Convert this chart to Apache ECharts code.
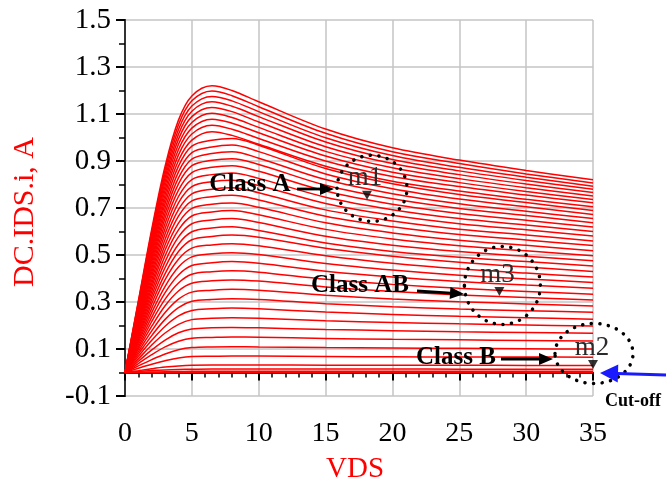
<!DOCTYPE html>
<html><head><meta charset="utf-8">
<script src="https://cdn.jsdelivr.net/npm/echarts@6/dist/echarts.min.js"></script>
<style>html,body{margin:0;padding:0;background:#fff}#c{width:672px;height:493px}</style>
</head><body><div id="c"></div>
<script>
// Drain voltage sample points (V)
const vds = [0,1,2,3,4,5,6.5,8,10,15,20,25,30,35];
// Drain current curves (A), top curve first
const curve01 = [0,0.305,0.61,0.878,1.074,1.177,1.22,1.2,1.152,1.036,0.956,0.904,0.86,0.82];
const curve02 = [0,0.3,0.599,0.863,1.054,1.156,1.198,1.178,1.131,1.018,0.939,0.889,0.845,0.806];
const curve03 = [0,0.294,0.588,0.846,1.034,1.134,1.175,1.156,1.11,0.999,0.923,0.873,0.831,0.793];
const curve04 = [0,0.288,0.576,0.829,1.014,1.112,1.152,1.133,1.089,0.981,0.906,0.858,0.817,0.78];
const curve05 = [0,0.282,0.564,0.812,0.993,1.089,1.128,1.11,1.066,0.961,0.889,0.842,0.802,0.766];
const curve06 = [0,0.276,0.552,0.794,0.971,1.064,1.103,1.085,1.043,0.941,0.871,0.825,0.786,0.751];
const curve07 = [0,0.27,0.539,0.776,0.949,1.04,1.078,1.061,1.02,0.921,0.852,0.808,0.77,0.736];
const curve08 = [0,0.263,0.526,0.757,0.926,1.015,1.052,1.035,0.996,0.9,0.834,0.791,0.755,0.722];
const curve09 = [0,0.256,0.513,0.738,0.902,0.989,1.025,1.009,0.971,0.878,0.814,0.772,0.737,0.705];
const curve10 = [0,0.25,0.499,0.719,0.878,0.963,0.988,0.996,0.967,0.868,0.803,0.757,0.723,0.689];
const curve11 = [0,0.243,0.485,0.698,0.854,0.936,0.96,0.968,0.94,0.845,0.782,0.738,0.705,0.672];
const curve12 = [0,0.235,0.471,0.678,0.828,0.908,0.932,0.939,0.912,0.821,0.761,0.718,0.686,0.655];
const curve13 = [0,0.228,0.456,0.657,0.803,0.88,0.903,0.91,0.885,0.797,0.739,0.698,0.668,0.637];
const curve14 = [0,0.221,0.441,0.635,0.776,0.851,0.873,0.88,0.856,0.772,0.716,0.677,0.648,0.619];
const curve15 = [0,0.213,0.426,0.613,0.749,0.821,0.842,0.849,0.826,0.746,0.693,0.655,0.628,0.6];
const curve16 = [0,0.205,0.41,0.59,0.722,0.791,0.812,0.818,0.796,0.719,0.669,0.633,0.607,0.581];
const curve17 = [0,0.197,0.394,0.567,0.693,0.76,0.78,0.786,0.765,0.692,0.645,0.61,0.585,0.56];
const curve18 = [0,0.189,0.378,0.544,0.665,0.73,0.748,0.754,0.734,0.665,0.62,0.587,0.564,0.54];
const curve19 = [0,0.181,0.362,0.521,0.636,0.698,0.716,0.721,0.703,0.637,0.594,0.563,0.541,0.518];
const curve20 = [0,0.173,0.345,0.497,0.607,0.666,0.683,0.689,0.671,0.609,0.568,0.539,0.518,0.497];
const curve21 = [0,0.164,0.328,0.472,0.577,0.633,0.649,0.655,0.638,0.58,0.542,0.515,0.495,0.476];
const curve22 = [0,0.155,0.311,0.447,0.546,0.599,0.615,0.62,0.604,0.551,0.515,0.49,0.472,0.453];
const curve23 = [0,0.146,0.293,0.421,0.515,0.565,0.579,0.585,0.576,0.529,0.495,0.469,0.449,0.43];
const curve24 = [0,0.137,0.274,0.395,0.482,0.529,0.543,0.548,0.539,0.497,0.465,0.441,0.423,0.406];
const curve25 = [0,0.128,0.255,0.367,0.449,0.492,0.505,0.51,0.502,0.464,0.436,0.414,0.398,0.383];
const curve26 = [0,0.118,0.236,0.34,0.415,0.455,0.467,0.472,0.465,0.431,0.406,0.387,0.372,0.359];
const curve27 = [0,0.108,0.217,0.312,0.381,0.418,0.429,0.433,0.427,0.397,0.375,0.358,0.345,0.333];
const curve28 = [0,0.099,0.197,0.284,0.347,0.38,0.39,0.394,0.389,0.364,0.345,0.33,0.319,0.309];
const curve29 = [0,0.089,0.177,0.255,0.312,0.342,0.35,0.354,0.35,0.329,0.313,0.301,0.292,0.283];
const curve30 = [0,0.079,0.157,0.226,0.276,0.303,0.311,0.314,0.311,0.293,0.28,0.27,0.263,0.256];
const curve31 = [0,0.069,0.137,0.197,0.241,0.264,0.271,0.274,0.271,0.257,0.247,0.239,0.233,0.227];
const curve32 = [0,0.058,0.117,0.168,0.205,0.225,0.231,0.233,0.231,0.22,0.213,0.207,0.202,0.198];
const curve33 = [0,0.048,0.096,0.138,0.169,0.185,0.19,0.192,0.19,0.183,0.178,0.173,0.17,0.167];
const curve34 = [0,0.038,0.076,0.109,0.133,0.146,0.149,0.151,0.15,0.145,0.141,0.139,0.136,0.134];
const curve35 = [0,0.028,0.055,0.079,0.097,0.106,0.109,0.11,0.109,0.106,0.104,0.103,0.101,0.1];
const curve36 = [0,0.018,0.035,0.05,0.062,0.068,0.069,0.07,0.07,0.068,0.067,0.066,0.066,0.065];
const curve37 = [0,0.008,0.016,0.023,0.028,0.031,0.032,0.032,0.032,0.031,0.031,0.031,0.03,0.03];
const curve38 = [0,0.004,0.008,0.011,0.013,0.014,0.015,0.015,0.015,0.015,0.015,0.014,0.014,0.014];
const curve39 = [0,0.001,0.002,0.003,0.004,0.005,0.005,0.005,0.005,0.005,0.005,0.005,0.005,0.005];
const curve40 = [0,0,0,0,0,0,0,0,0,0,0,0,0,0];
const curves = [curve01,curve02,curve03,curve04,curve05,curve06,curve07,curve08,curve09,curve10,
  curve11,curve12,curve13,curve14,curve15,curve16,curve17,curve18,curve19,curve20,
  curve21,curve22,curve23,curve24,curve25,curve26,curve27,curve28,curve29,curve30,
  curve31,curve32,curve33,curve34,curve35,curve36,curve37,curve38,curve39,curve40];
// Markers
const markerNames = ['m1','m3','m2'];
const markerVds = [18.1, 28.0, 35.0];
const markerIds = [0.737, 0.328, 0.017];
// Axis ranges
const xRange = [0, 35, 5];
const yRange = [-0.1, 1.5, 0.2];

const FONT = '"Liberation Serif","Times New Roman",serif';
const chart = echarts.init(document.getElementById('c'), null, {renderer:'canvas'});

const series = curves.map((c, k) => ({
  type:'line', data: vds.map((x,i)=>[x, c[i]]), showSymbol:false, smooth:0.35,
  lineStyle:{color:'#ff0000', width:1.5}, silent:true, z:2
}));
series.push({
  type:'scatter', data: markerVds.map((x,i)=>[x, markerIds[i]]),
  symbol:'triangle', symbolRotate:180, symbolSize:[10,9], symbolOffset:[0,-4],
  itemStyle:{color:'#000'}, z:5, silent:true
});

const option = {
  animation:false,
  grid:{left:125, right:79, top:20, bottom:97},
  xAxis:[{
    type:'value', min:xRange[0], max:xRange[1], interval:xRange[2],
    axisLine:{lineStyle:{color:'#000', width:2}},
    axisTick:{length:8, lineStyle:{color:'#000', width:2}},
    minorTick:{show:true, splitNumber:5, length:5, lineStyle:{color:'#000', width:1.5}},
    splitLine:{show:true, lineStyle:{color:'#c4c4c4', width:1.5}},
    axisLabel:{color:'#000', fontFamily:FONT, fontSize:28, margin:24}
  },{
    type:'value', position:'top', min:xRange[0], max:xRange[1],
    axisLine:{show:true, lineStyle:{color:'#333', width:2}},
    axisTick:{show:false}, axisLabel:{show:false}, splitLine:{show:false}
  }],
  yAxis:[{
    type:'value', min:yRange[0], max:yRange[1], interval:yRange[2],
    axisLine:{show:true, lineStyle:{color:'#000', width:2}},
    axisTick:{show:true, length:9, lineStyle:{color:'#000', width:2}},
    minorTick:{show:true, splitNumber:2, length:6, lineStyle:{color:'#000', width:1.5}},
    splitLine:{show:true, lineStyle:{color:'#c4c4c4', width:1.5}},
    axisLabel:{color:'#000', fontFamily:FONT, fontSize:29, margin:14,
      formatter:v=>(Math.abs(v)<1e-9?0:v).toFixed(1)}
  },{
    type:'value', position:'right', min:yRange[0], max:yRange[1],
    axisLine:{show:true, lineStyle:{color:'#333', width:2}},
    axisTick:{show:false}, axisLabel:{show:false}, splitLine:{show:false}
  }],
  series
};
chart.setOption(option);

function arrow(x1,y1,x2,y2,color,w,hl,hw){
  const dx=x2-x1, dy=y2-y1, L=Math.hypot(dx,dy), ux=dx/L, uy=dy/L;
  const bx=x2-ux*hl, by=y2-uy*hl;
  return [
    {type:'line', z:100, shape:{x1:x1,y1:y1,x2:bx+ux,y2:by+uy}, style:{stroke:color,lineWidth:w}},
    {type:'polygon', z:100, shape:{points:[[x2,y2],[bx-uy*hw,by+ux*hw],[bx+uy*hw,by-ux*hw]]}, style:{fill:color}}
  ];
}
function txt(x,y,text,font,fill,rot){
  return {type:'text', z:100, x:x, y:y, rotation:rot||0,
    style:{text:text, font:font, fill:fill, align:'center', verticalAlign:'middle', textAlign:'center', textVerticalAlign:'middle'}};
}
const px = markerVds.map((x,i)=>chart.convertToPixel({gridIndex:0},[x, markerIds[i]]));
const circOff = [[5,-11,35,33],[3,-10,38,39],[1,-15,39,30]];
const labOff = [[-2,-21],[-2,-21],[-1,-21]];
const g = [];
px.forEach((p,i)=>{
  const o = circOff[i];
  g.push({type:'ellipse', z:100, shape:{cx:p[0]+o[0], cy:p[1]+o[1], rx:o[2], ry:o[3]},
    style:{fill:'none', stroke:'#000', lineWidth:3.5, lineDash:[0.1,8.5], lineCap:'round'}});
  g.push(txt(p[0]+labOff[i][0], p[1]+labOff[i][1], markerNames[i], '27px '+FONT, '#2a2a2a'));
});
g.push(txt(25,212,'DC.IDS.i, A','30px '+FONT,'#ff0000',Math.PI/2));
g.push(txt(355,469,'VDS','29px '+FONT,'#ff0000'));
g.push(txt(250,185,'Class A','bold 25px '+FONT,'#000'));
g.push(txt(360,286,'Class AB','bold 25px '+FONT,'#000'));
g.push(txt(456,358,'Class B','bold 25px '+FONT,'#000'));
g.push(txt(633,401,'Cut-off','bold 18px '+FONT,'#000'));
g.push(...arrow(297,189,334,189,'#000',2.8,14,6));
g.push(...arrow(417,291,464,294,'#000',2.8,14,6));
g.push(...arrow(501,359,553,359,'#000',2.8,14,6));
g.push(...arrow(666,375,600,373,'#1a1aff',3,18,9));
chart.setOption({graphic:g});
</script></body></html>
